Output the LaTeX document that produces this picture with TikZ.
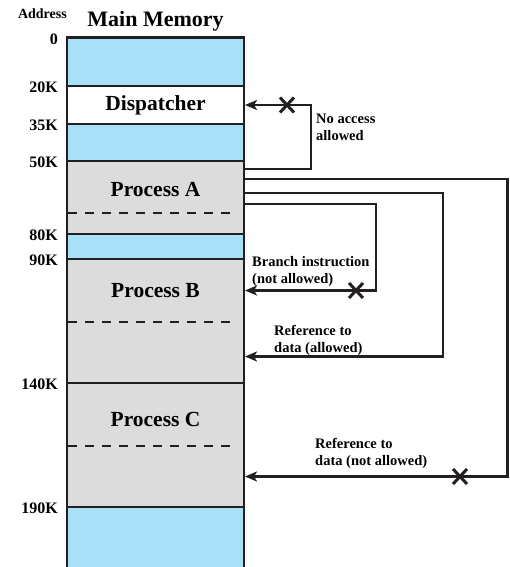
\documentclass[tikz,border=0pt]{standalone}
\usepackage{fontspec}
\setmainfont{Liberation Serif}
\usetikzlibrary{positioning,arrows.meta,shapes.misc}
\definecolor{memblue}{HTML}{A8E0F8}
\definecolor{memgray}{HTML}{DCDCDC}
\definecolor{ink}{HTML}{231F20}
\begin{document}
\begin{tikzpicture}[x=1pt,y=-1pt]
    \tikzstyle{seg} = [rectangle, minimum width=177pt, inner sep=0pt, outer sep=0pt,
        font=\bfseries\fontsize{21.5}{24}\selectfont]
    \tikzstyle{free} = [seg, fill=memblue]
    \tikzstyle{proc} = [seg, fill=memgray]
    \tikzstyle{border} = [draw=ink, line width=2.2pt]
    \tikzstyle{divider} = [draw=ink, line width=2.2pt, dash pattern=on 9pt off 8pt]
    \tikzstyle{arrow} = [draw=ink, line width=2.2pt,
        -{Stealth[length=12pt,width=10pt,inset=3pt]}, shorten >=1pt]
    \tikzstyle{addr} = [anchor=east, inner sep=0pt,
        font=\bfseries\fontsize{16}{18}\selectfont]
    \tikzstyle{note} = [anchor=north west, inner sep=0pt, align=left,
        font=\bfseries\fontsize{14.5}{17}\selectfont]
    \tikzstyle{cross} = [cross out, draw=ink, line width=3pt,
        minimum width=11pt, minimum height=12pt, inner sep=0pt]

    \useasboundingbox (0,0) rectangle (509,567);

    \node (free1) [free, minimum height=48.5pt, anchor=north west] at (67,37.5) {};
    \node (disp) [seg, fill=white, minimum height=38pt, below=0pt of free1] {Dispatcher};
    \node (free2) [free, minimum height=37pt, below=0pt of disp] {};
    \node (codeA) [proc, minimum height=52pt, text height=19pt, below=0pt of free2] {Process A};
    \node (dataA) [proc, minimum height=21pt, below=0pt of codeA] {};
    \node (free3) [free, minimum height=25pt, below=0pt of dataA] {};
    \node (codeB) [proc, minimum height=63pt, below=0pt of free3] {Process B};
    \node (dataB) [proc, minimum height=61pt, below=0pt of codeB] {};
    \node (codeC) [proc, minimum height=63pt, text height=24pt, below=0pt of dataB] {Process C};
    \node (dataC) [proc, minimum height=61pt, below=0pt of codeC] {};
    \node (free4) [free, minimum height=68pt, below=0pt of dataC] {};

    \node (title) [anchor=base, font=\bfseries\fontsize{22}{24}\selectfont]
        at (155.5,26.7) {Main Memory};
    \node (addrhead) [anchor=base east, inner sep=0pt,
        font=\bfseries\fontsize{14}{16}\selectfont] at (67,19) {Address};
    \foreach \lbl/\yy in {0/37.5, 20K/86, 35K/124, 50K/161, 80K/234,
        90K/259, 140K/383, 190K/507}
        \node (a\lbl) [addr] at (58,\yy+1.5) {\lbl};

    % outline and boundaries
    \draw [border] (free4.south west) -- (free1.north west)
        -- (free1.north east) -- (free4.south east);
    \foreach \seg in {free1, disp, free2, dataA, free3, dataB, dataC}
        \draw [border] (\seg.south west) -- (\seg.south east);
    \foreach \seg in {codeA, codeB, codeC}
        \draw [divider] ([xshift=1pt]\seg.south west) -- ([xshift=-7pt]\seg.south east);

    % accesses from process A
    \draw [arrow] ([yshift=-8pt]codeA.north east) -- ++(67,0) |- (disp.east);
    \draw [arrow] ([yshift=-18pt]codeA.north east) -- ++(263.5,0) |- (dataC.east);
    \draw [arrow] ([yshift=-32pt]codeA.north east) -- ++(199,0) |- ([yshift=-4pt]dataB.east);
    \draw [arrow] ([yshift=-43pt]codeA.north east) -- ++(132,0) |- (codeB.east);

    \node (xdisp) [cross] at (287,105) {};
    \node (xcodeb) [cross] at (356,290.5) {};
    \node (xdatac) [cross] at (460,476.5) {};

    \node (nonote) [note] at (316,114) {No access\\allowed};
    \node (brnote) [note] at (252,256.5) {Branch instruction\\(not allowed)};
    \node (oknote) [note] at (274,325) {Reference to\\data (allowed)};
    \node (badnote) [note] at (315,438) {Reference to\\data (not allowed)};
\end{tikzpicture}
\end{document}
